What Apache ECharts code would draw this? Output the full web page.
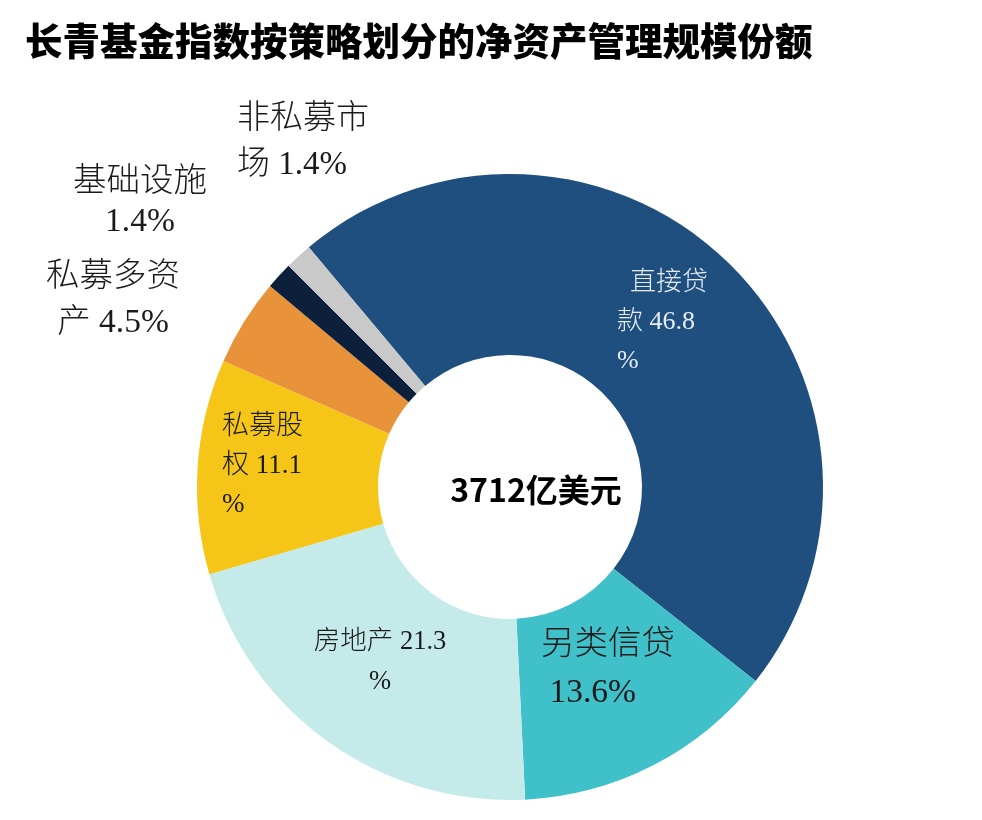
<!DOCTYPE html>
<html>
<head>
<meta charset="utf-8">
<script src="https://cdn.jsdelivr.net/npm/echarts@6/dist/echarts.min.js"></script>
<style>
  html, body { margin: 0; padding: 0; background: #fff; }
  #grafico { width: 982px; height: 820px; }
</style>
</head>
<body>
<div id="grafico"></div>
<script>
// Dados (percentual do total)
const categorias = ['直接贷款', '另类信贷', '房地产', '私募股权', '私募多资产', '基础设施', '非私募市场'];
const valores = [46.8, 13.6, 21.3, 11.1, 4.5, 1.4, 1.4];
// Texto das etiquetas como aparecem quebradas na imagem
const etiquetas = [
  '\u2002直接贷\n款 46.8\n%',
  '另类信贷\n 13.6%',
  '房地产 21.3\n%',
  '私募股\n权 11.1\n%',
  '私募多资\n产 4.5%',
  '基础设施\n1.4%',
  '非私募市\n场 1.4%'
];
const total = '3712亿美元';

const cores = ['#1f4f7f', '#40c1c9', '#c4ebea', '#f5c518', '#e8923a', '#0c1f3b', '#c9c9c9'];

// Estilo e posição de cada etiqueta (x, y, alinhamento, fonte, altura de linha, cor)
const estiloEtiqueta = [
  { x: 617, y: 322, align: 'left', size: 26, lh: 39, cor: '#e6edf5' },
  { x: 541, y: 669, align: 'left', size: 33.5, lh: 48, cor: '#1a1a1a' },
  { x: 380, y: 662, align: 'center', size: 26.5, lh: 40, cor: '#1a1a1a' },
  { x: 222, y: 466, align: 'left', size: 27, lh: 39, cor: '#1a1a1a' },
  { x: 113, y: 300, align: 'center', size: 33.5, lh: 46, cor: '#1a1a1a' },
  { x: 140, y: 202, align: 'center', size: 33.5, lh: 40, cor: '#1a1a1a' },
  { x: 237, y: 142, align: 'left', size: 33, lh: 46, cor: '#1a1a1a' }
];

const fonteEtiqueta = "'Liberation Serif', 'Noto Sans CJK SC', serif";

const myChart = echarts.init(document.getElementById('grafico'));

myChart.setOption({
  animation: false,
  title: [
    {
      text: '长青基金指数按策略划分的净资产管理规模份额',
      left: 20,
      top: 17,
      textStyle: { fontFamily: 'Noto Sans CJK SC', fontWeight: 900, fontSize: 37.5, color: '#000' }
    },
    {
      text: total,
      left: 531,
      top: 469,
      textAlign: 'center',
      textStyle: { fontFamily: 'Noto Sans CJK SC', fontWeight: 'bold', fontSize: 32, color: '#000' }
    }
  ],
  series: [{
    type: 'pie',
    center: [510, 487],
    radius: [132, 313],
    startAngle: 130,
    clockwise: true,
    avoidLabelOverlap: false,
    labelLine: { show: false },
    data: categorias.map((nome, i) => ({
      name: nome,
      value: valores[i],
      itemStyle: { color: cores[i] },
      label: {
        show: true,
        position: 'inside',
        formatter: etiquetas[i],
        fontFamily: fonteEtiqueta,
        fontWeight: 300,
        fontSize: estiloEtiqueta[i].size,
        lineHeight: estiloEtiqueta[i].lh,
        color: estiloEtiqueta[i].cor,
        align: estiloEtiqueta[i].align
      }
    })),
    labelLayout: (params) => {
      const e = estiloEtiqueta[params.dataIndex];
      return { x: e.x, y: e.y, align: e.align, verticalAlign: 'middle' };
    }
  }]
});
</script>
</body>
</html>
